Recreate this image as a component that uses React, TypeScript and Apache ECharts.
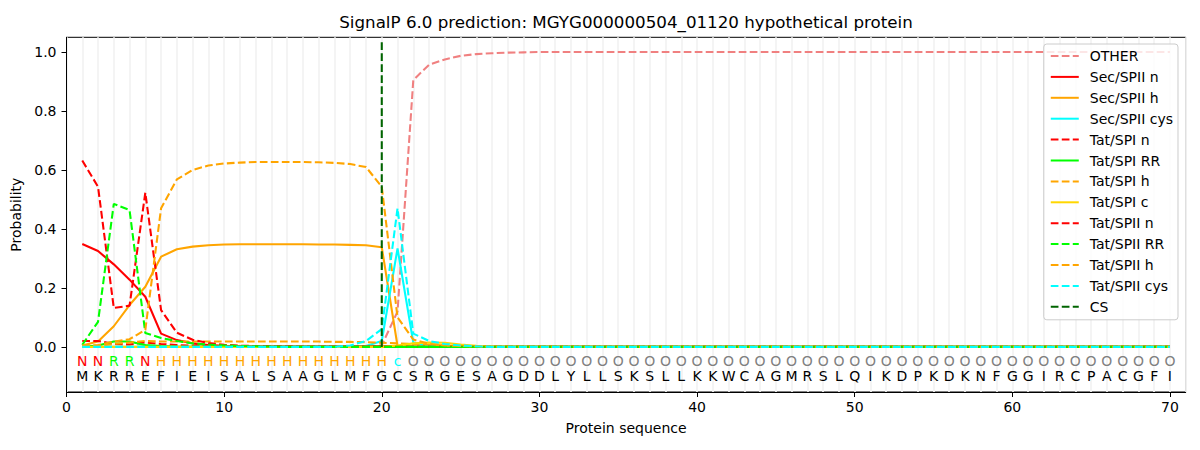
import React, { useEffect, useRef } from "react";
import * as echarts from "echarts";

const sequence = "MKRREFIEISALSAAGLMFGCSRGESAGDDLYLLSKSLLKKWCAGMRSLQIKDPKDKNFGGIRCPACGFI".split("");
const regionLabels = ("NNRRN" + "HHHHHHHHHHHHHHH" + "c" + "OOOOOOOOOOOOOOOOOOOOOOOOOOOOOOOOOOOOOOOOOOOOOOOOO").split("");
const positions = sequence.map((_, i) => i + 1);
const csPosition = 20;
const csTop = 1.034;

const other = [
  0, 0, 0, 0, 0, 0, 0, 0, 0, 0,
  0, 0, 0, 0, 0, 0, 0, 0, 0, 0.005,
  0.12, 0.905, 0.957, 0.975, 0.987, 0.993, 0.996, 0.998, 0.999, 1,
  1, 1, 1, 1, 1, 1, 1, 1, 1, 1,
  1, 1, 1, 1, 1, 1, 1, 1, 1, 1,
  1, 1, 1, 1, 1, 1, 1, 1, 1, 1,
  1, 1, 1, 1, 1, 1, 1, 1, 1, 1,
];
const secSpiiN = [
  0.349, 0.325, 0.28, 0.228, 0.17, 0.045, 0.023, 0.012, 0.006, 0.004,
  0.003, 0.002, 0.002, 0.001, 0.001, 0.001, 0.001, 0.001, 0.001, 0.001,
  0, 0, 0, 0, 0, 0, 0, 0, 0, 0,
  0, 0, 0, 0, 0, 0, 0, 0, 0, 0,
  0, 0, 0, 0, 0, 0, 0, 0, 0, 0,
  0, 0, 0, 0, 0, 0, 0, 0, 0, 0,
  0, 0, 0, 0, 0, 0, 0, 0, 0, 0,
];
const secSpiiH = [
  0.005, 0.018, 0.07, 0.142, 0.204, 0.306, 0.331, 0.34, 0.345, 0.347,
  0.348, 0.348, 0.348, 0.348, 0.348, 0.347, 0.347, 0.346, 0.345, 0.338,
  0.003, 0.001, 0, 0, 0, 0, 0, 0, 0, 0,
  0, 0, 0, 0, 0, 0, 0, 0, 0, 0,
  0, 0, 0, 0, 0, 0, 0, 0, 0, 0,
  0, 0, 0, 0, 0, 0, 0, 0, 0, 0,
  0, 0, 0, 0, 0, 0, 0, 0, 0, 0,
];
const secSpiiCys = [
  0, 0, 0, 0, 0, 0, 0, 0, 0, 0,
  0, 0, 0, 0, 0, 0, 0, 0, 0.003, 0.02,
  0.334, 0.015, 0.003, 0.001, 0, 0, 0, 0, 0, 0,
  0, 0, 0, 0, 0, 0, 0, 0, 0, 0,
  0, 0, 0, 0, 0, 0, 0, 0, 0, 0,
  0, 0, 0, 0, 0, 0, 0, 0, 0, 0,
  0, 0, 0, 0, 0, 0, 0, 0, 0, 0,
];
const tatSpiN = [
  0.02, 0.02, 0.01, 0.008, 0.015, 0.01, 0.006, 0.004, 0.003, 0.002,
  0.002, 0.001, 0.001, 0.001, 0.001, 0.001, 0.001, 0.001, 0.001, 0.001,
  0, 0, 0, 0, 0, 0, 0, 0, 0, 0,
  0, 0, 0, 0, 0, 0, 0, 0, 0, 0,
  0, 0, 0, 0, 0, 0, 0, 0, 0, 0,
  0, 0, 0, 0, 0, 0, 0, 0, 0, 0,
  0, 0, 0, 0, 0, 0, 0, 0, 0, 0,
];
const tatSpiRR = [
  0, 0.005, 0.018, 0.018, 0.006, 0.003, 0.001, 0, 0, 0,
  0, 0, 0, 0, 0, 0, 0, 0, 0, 0,
  0, 0, 0, 0, 0, 0, 0, 0, 0, 0,
  0, 0, 0, 0, 0, 0, 0, 0, 0, 0,
  0, 0, 0, 0, 0, 0, 0, 0, 0, 0,
  0, 0, 0, 0, 0, 0, 0, 0, 0, 0,
  0, 0, 0, 0, 0, 0, 0, 0, 0, 0,
];
const tatSpiH = [
  0, 0.003, 0.01, 0.015, 0.02, 0.018, 0.018, 0.018, 0.018, 0.018,
  0.018, 0.018, 0.018, 0.018, 0.018, 0.018, 0.017, 0.017, 0.016, 0.014,
  0.012, 0.01, 0.008, 0.005, 0.003, 0.002, 0.001, 0, 0, 0,
  0, 0, 0, 0, 0, 0, 0, 0, 0, 0,
  0, 0, 0, 0, 0, 0, 0, 0, 0, 0,
  0, 0, 0, 0, 0, 0, 0, 0, 0, 0,
  0, 0, 0, 0, 0, 0, 0, 0, 0, 0,
];
const tatSpiC = [
  0, 0, 0, 0, 0, 0, 0, 0, 0, 0,
  0, 0, 0, 0, 0, 0, 0, 0, 0, 0,
  0.005, 0.012, 0.015, 0.014, 0.008, 0.004, 0.002, 0.001, 0, 0,
  0, 0, 0, 0, 0, 0, 0, 0, 0, 0,
  0, 0, 0, 0, 0, 0, 0, 0, 0, 0,
  0, 0, 0, 0, 0, 0, 0, 0, 0, 0,
  0, 0, 0, 0, 0, 0, 0, 0, 0, 0,
];
const tatSpiiN = [
  0.632, 0.543, 0.132, 0.14, 0.523, 0.125, 0.048, 0.024, 0.013, 0.007,
  0.004, 0.003, 0.002, 0.002, 0.001, 0.001, 0.001, 0.001, 0.001, 0.001,
  0, 0, 0, 0, 0, 0, 0, 0, 0, 0,
  0, 0, 0, 0, 0, 0, 0, 0, 0, 0,
  0, 0, 0, 0, 0, 0, 0, 0, 0, 0,
  0, 0, 0, 0, 0, 0, 0, 0, 0, 0,
  0, 0, 0, 0, 0, 0, 0, 0, 0, 0,
];
const tatSpiiRR = [
  0.007, 0.085, 0.485, 0.464, 0.047, 0.03, 0.02, 0.012, 0.008, 0.005,
  0.003, 0.002, 0.001, 0, 0, 0, 0, 0, 0, 0,
  0, 0, 0, 0, 0, 0, 0, 0, 0, 0,
  0, 0, 0, 0, 0, 0, 0, 0, 0, 0,
  0, 0, 0, 0, 0, 0, 0, 0, 0, 0,
  0, 0, 0, 0, 0, 0, 0, 0, 0, 0,
  0, 0, 0, 0, 0, 0, 0, 0, 0, 0,
];
const tatSpiiH = [
  0.005, 0.006, 0.018, 0.026, 0.058, 0.47, 0.568, 0.6, 0.615, 0.622,
  0.625, 0.627, 0.627, 0.627, 0.627, 0.626, 0.624, 0.62, 0.61, 0.543,
  0.1, 0.025, 0.01, 0.005, 0.003, 0.002, 0.001, 0, 0, 0,
  0, 0, 0, 0, 0, 0, 0, 0, 0, 0,
  0, 0, 0, 0, 0, 0, 0, 0, 0, 0,
  0, 0, 0, 0, 0, 0, 0, 0, 0, 0,
  0, 0, 0, 0, 0, 0, 0, 0, 0, 0,
];
const tatSpiiCys = [
  0, 0, 0, 0, 0, 0, 0, 0, 0, 0,
  0, 0, 0, 0, 0, 0, 0, 0.005, 0.02, 0.06,
  0.47, 0.045, 0.02, 0.01, 0.005, 0.002, 0, 0, 0, 0,
  0, 0, 0, 0, 0, 0, 0, 0, 0, 0,
  0, 0, 0, 0, 0, 0, 0, 0, 0, 0,
  0, 0, 0, 0, 0, 0, 0, 0, 0, 0,
  0, 0, 0, 0, 0, 0, 0, 0, 0, 0,
];

const xTicks = [0, 10, 20, 30, 40, 50, 60, 70];
const yTicks = [0, 0.2, 0.4, 0.6, 0.8, 1.0];

const labelColors: Record<string, string> = {
  N: "#ff0000",
  R: "#00ff00",
  H: "#ffa500",
  c: "#00ffff",
  O: "#808080",
};

const FONT = "DejaVu Sans";
const DASH = [7.7, 3.3];

const seriesDefs = [
  { name: "OTHER", data: other, color: "#f08080", dashed: true },
  { name: "Sec/SPII n", data: secSpiiN, color: "#ff0000", dashed: false },
  { name: "Sec/SPII h", data: secSpiiH, color: "#ffa500", dashed: false },
  { name: "Sec/SPII cys", data: secSpiiCys, color: "#00ffff", dashed: false },
  { name: "Tat/SPI n", data: tatSpiN, color: "#ff0000", dashed: true },
  { name: "Tat/SPI RR", data: tatSpiRR, color: "#00ff00", dashed: false },
  { name: "Tat/SPI h", data: tatSpiH, color: "#ffa500", dashed: true },
  { name: "Tat/SPI c", data: tatSpiC, color: "#ffd700", dashed: false },
  { name: "Tat/SPII n", data: tatSpiiN, color: "#ff0000", dashed: true },
  { name: "Tat/SPII RR", data: tatSpiiRR, color: "#00ff00", dashed: true },
  { name: "Tat/SPII h", data: tatSpiiH, color: "#ffa500", dashed: true },
  { name: "Tat/SPII cys", data: tatSpiiCys, color: "#00ffff", dashed: true },
];

export default function App() {
  const ref = useRef<HTMLDivElement>(null);

  useEffect(() => {
    if (!ref.current) return;
    const chart = echarts.init(ref.current, undefined, { renderer: "svg" });

    const lineSeries: any[] = seriesDefs.map((s) => ({
      name: s.name,
      type: "line",
      xAxisIndex: 0,
      data: s.data.map((v, i) => [positions[i], v]),
      symbol: "none",
      lineStyle: { color: s.color, width: 2.08, type: s.dashed ? DASH : "solid" },
      itemStyle: { color: s.color },
      silent: true,
    }));

    lineSeries.push({
      name: "CS",
      type: "line",
      xAxisIndex: 0,
      data: [
        [csPosition, 0],
        [csPosition, csTop],
      ],
      symbol: "none",
      lineStyle: { color: "#006400", width: 2.08, type: DASH },
      itemStyle: { color: "#006400" },
      silent: true,
    });

    const letterData: any[] = [];
    regionLabels.forEach((l, i) => {
      letterData.push([positions[i], -0.048, l, labelColors[l] || "#000"]);
    });
    sequence.forEach((l, i) => {
      letterData.push([positions[i], -0.099, l, "#000000"]);
    });

    lineSeries.push({
      name: "letters",
      type: "custom",
      xAxisIndex: 0,
      silent: true,
      data: letterData,
      renderItem: (params: any, api: any) => {
        const d = letterData[params.dataIndex];
        const p = api.coord([d[0], d[1]]);
        return {
          type: "text",
          x: p[0],
          y: p[1],
          style: {
            text: d[2],
            fill: d[3],
            font: `14px "${FONT}"`,
            textAlign: "center",
            textVerticalAlign: "middle",
          },
        };
      },
    });

    chart.setOption({
      animation: false,
      backgroundColor: "#ffffff",
      title: {
        text: "SignalP 6.0 prediction: MGYG000000504_01120 hypothetical protein",
        left: 626,
        top: 13,
        padding: 0,
        textAlign: "center",
        textStyle: { fontFamily: FONT, fontSize: 16.7, fontWeight: "normal", color: "#000" },
      },
      legend: {
        data: [...seriesDefs.map((s) => s.name), "CS"],
        orient: "vertical",
        right: 22,
        top: 44,
        itemWidth: 28,
        itemHeight: 14,
        itemGap: 6.9,
        padding: [5, 5, 6, 6],
        backgroundColor: "rgba(255,255,255,0.8)",
        borderColor: "#cccccc",
        borderWidth: 1,
        borderRadius: 3,
        selectedMode: false,
        itemStyle: { opacity: 0 },
        textStyle: { fontFamily: FONT, fontSize: 14, color: "#000", padding: [0, 0, 0, 6], lineHeight: 14 },
      },
      grid: {
        left: 66.5,
        right: 14.3,
        top: 37.3,
        bottom: 58,
        show: true,
        borderColor: "#000",
        borderWidth: 1,
        backgroundColor: "transparent",
      },
      xAxis: [
        {
          type: "value",
          min: 0,
          max: 71,
          interval: 10,
          name: "Protein sequence",
          nameLocation: "middle",
          nameGap: 29,
          nameTextStyle: { fontFamily: FONT, fontSize: 14, color: "#000" },
          axisLine: { show: true, onZero: false, lineStyle: { color: "#000", width: 1 } },
          axisTick: { show: true, length: 5, lineStyle: { color: "#000", width: 1 }, customValues: xTicks },
          axisLabel: {
            show: true,
            margin: 8,
            fontFamily: FONT,
            fontSize: 14,
            color: "#000",
            customValues: xTicks,
            formatter: (v: number) => String(v),
          },
          splitLine: { show: false },
        },
        {
          type: "value",
          min: 0,
          max: 71,
          interval: 1,
          position: "top",
          axisLine: { show: false },
          axisTick: { show: false },
          axisLabel: { show: false },
          splitLine: { show: true, lineStyle: { color: "#f3f3f3", width: 1.8 } },
        },
      ],
      yAxis: {
        type: "value",
        min: -0.153,
        max: 1.05,
        name: "Probability",
        nameLocation: "middle",
        nameGap: 37,
        nameTextStyle: { fontFamily: FONT, fontSize: 14, color: "#000" },
        axisLine: { show: true, onZero: false, lineStyle: { color: "#000", width: 1 } },
        axisTick: { show: true, length: 5, lineStyle: { color: "#000", width: 1 }, customValues: yTicks },
        axisLabel: {
          show: true,
          margin: 10,
          fontFamily: FONT,
          fontSize: 14,
          color: "#000",
          customValues: yTicks,
          formatter: (v: number) => v.toFixed(1),
        },
        splitLine: { show: false },
      },
      series: lineSeries,
    });

    return () => chart.dispose();
  }, []);

  return (
    <div
      ref={ref}
      style={{ position: "fixed", left: 0, top: 0, width: 1200, height: 450, background: "#fff" }}
    />
  );
}
